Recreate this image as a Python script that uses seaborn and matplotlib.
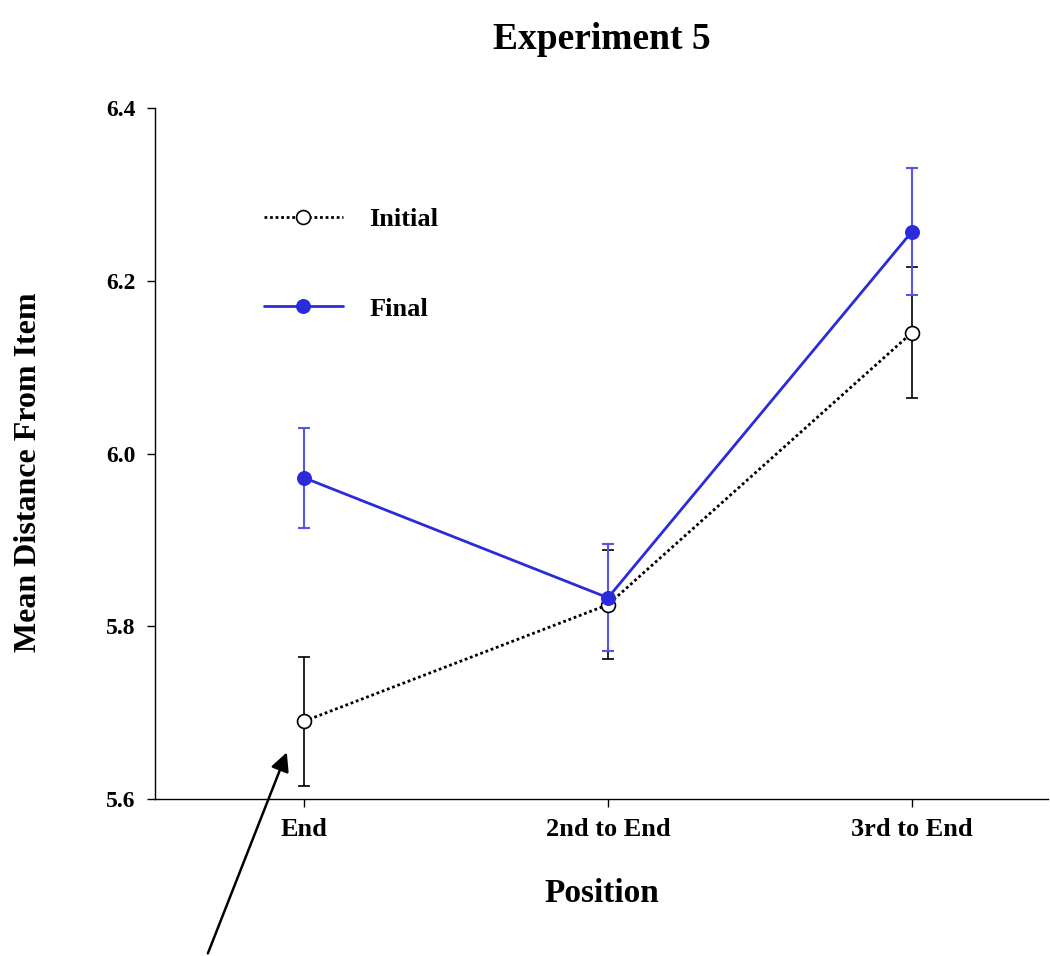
import numpy as np
import pandas as pd
import matplotlib
matplotlib.use("Agg")
import matplotlib.pyplot as plt
import seaborn as sns

# data
positions = ["End", "2nd to End", "3rd to End"]
initial_mean = [5.690, 5.825, 6.140]
initial_err = [0.075, 0.063, 0.076]
final_mean = [5.972, 5.833, 6.257]
final_err = [0.058, 0.062, 0.074]

sns.set_style("ticks")
plt.rcParams['font.family'] = ['Liberation Serif', 'DejaVu Serif']
plt.rcParams['font.weight'] = 'bold'
plt.rcParams['text.color'] = 'black'
plt.rcParams['axes.labelcolor'] = 'black'
plt.rcParams['xtick.color'] = 'black'
plt.rcParams['ytick.color'] = 'black'
plt.rcParams['axes.edgecolor'] = 'black'

blue = '#2b2bdb'
x = np.arange(len(positions))

fig = plt.figure(figsize=(10.5, 9.56), dpi=100)
ax = fig.add_axes([0.1476, 0.1642, 0.8504, 0.7228])

df = pd.DataFrame({
    'pos': np.concatenate([x, x]),
    'mean': initial_mean + final_mean,
    'cond': ['Initial'] * 3 + ['Final'] * 3,
})

# error bars first (black under blue)
ax.errorbar(x, initial_mean, yerr=initial_err, fmt='none', ecolor='black',
            elinewidth=1.2, capsize=4, capthick=1.2, zorder=1)
ax.errorbar(x, final_mean, yerr=final_err, fmt='none', ecolor='#5555ee',
            elinewidth=1.5, capsize=4, capthick=1.5, zorder=2)

sns.lineplot(data=df[df.cond == 'Initial'], x='pos', y='mean', ax=ax,
             color='black', linestyle=(0, (1, 1)), linewidth=2,
             marker='o', markersize=10, markerfacecolor='white',
             markeredgecolor='black', markeredgewidth=1.2,
             label='Initial', zorder=3)
sns.lineplot(data=df[df.cond == 'Final'], x='pos', y='mean', ax=ax,
             color=blue, linewidth=2, marker='o', markersize=10,
             markerfacecolor=blue, markeredgecolor=blue,
             label='Final', zorder=4)

ax.set_xlim(-0.49, 2.447)
ax.set_ylim(5.6, 6.4)
ax.set_xticks(x)
ax.set_xticklabels(positions, fontsize=19, fontweight='bold')
ax.set_yticks([5.6, 5.8, 6.0, 6.2, 6.4])
ax.set_yticklabels(['5.6', '5.8', '6.0', '6.2', '6.4'], fontsize=17, fontweight='bold')
ax.tick_params(axis='both', direction='out', length=6, width=1, pad=8)
sns.despine(ax=ax)
for s in ['left', 'bottom']:
    ax.spines[s].set_linewidth(1)

ax.set_xlabel('Position', fontsize=24, fontweight='bold', labelpad=26)
ax.set_ylabel('Mean Distance From Item', fontsize=23, fontweight='bold')
ax.yaxis.set_label_coords(-0.125, 0.473)
fig.text(0.573, 0.977, 'Experiment 5', ha='center', va='top',
         fontsize=27, fontweight='bold')

ax.legend(loc='upper left', bbox_to_anchor=(0.095, 0.89), frameon=False,
          handlelength=3.0, handletextpad=1.0, labelspacing=2.5,
          prop={'size': 19, 'weight': 'bold'})

# arrow pointing at the first initial point
ax.annotate('', xy=(-0.053, 5.657), xycoords='data',
            xytext=(0.197, 0.0), textcoords='figure fraction',
            arrowprops=dict(arrowstyle='-|>', color='black', lw=1.8,
                            mutation_scale=28),
            annotation_clip=False)

fig.savefig('out.png', dpi=100)
